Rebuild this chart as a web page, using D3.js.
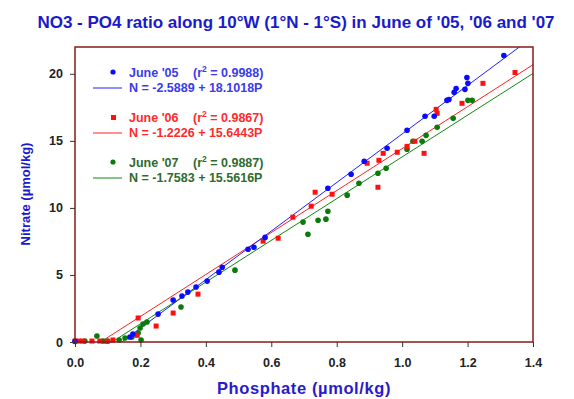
<!DOCTYPE html>
<html>
<head>
<meta charset="utf-8">
<script src="https://cdn.jsdelivr.net/npm/d3@7"></script>
<style>
  body { margin: 0; background: #fff; }
  svg { font-family: "Liberation Sans", Arial, sans-serif; }
</style>
</head>
<body>
<svg id="drawing_region"></svg>
<script>
// phosphate (P) / nitrate (N) pairs
const p05 = [0.0, 0.168, 0.177, 0.254, 0.300, 0.327, 0.345, 0.370, 0.404, 0.440, 0.450, 0.529, 0.547, 0.581, 0.773, 0.844, 0.884, 0.954, 1.015, 1.070, 1.098, 1.137, 1.143, 1.159, 1.165, 1.192, 1.198, 1.201, 1.311];
const n05 = [0.05, 0.37, 0.6, 2.08, 3.13, 3.43, 3.72, 4.10, 4.54, 5.21, 5.58, 6.92, 7.07, 7.8, 11.47, 12.51, 13.48, 14.45, 15.79, 16.83, 16.83, 18.02, 18.09, 18.62, 18.91, 18.84, 19.73, 19.29, 21.37];

const p06 = [0.0, 0.012, 0.024, 0.052, 0.076, 0.098, 0.116, 0.19, 0.193, 0.248, 0.300, 0.376, 0.575, 0.621, 0.666, 0.722, 0.734, 0.786, 0.893, 0.926, 0.929, 0.942, 0.985, 1.015, 1.039, 1.067, 1.104, 1.107, 1.183, 1.247, 1.345];
const n06 = [0.07, 0.07, 0.07, 0.07, 0.07, 0.05, 0.15, 0.5, 1.79, 1.19, 2.16, 3.57, 7.52, 7.74, 9.31, 10.13, 11.17, 11.02, 13.33, 11.54, 13.55, 14.07, 14.15, 14.59, 14.97, 14.07, 17.35, 17.05, 17.8, 19.29, 20.1];

const p07 = [0.03, 0.067, 0.086, 0.1, 0.135, 0.153, 0.174, 0.193, 0.199, 0.202, 0.208, 0.22, 0.324, 0.489, 0.697, 0.712, 0.743, 0.767, 0.773, 0.832, 0.868, 0.926, 0.951, 1.015, 1.033, 1.061, 1.073, 1.107, 1.156, 1.201, 1.214];
const n07 = [0.07, 0.45, 0.07, 0.07, 0.15, 0.3, 0.37, 0.67, 1.04, 0.15, 1.34, 1.49, 2.61, 5.36, 8.94, 8.04, 9.08, 9.16, 9.75, 10.95, 11.84, 12.58, 12.96, 14.37, 14.97, 14.97, 15.41, 16.01, 16.68, 18.02, 18.02];

// legend / regression fits
const years = ["June '05", "June '06", "June '07"];
const r2 = ["0.9988", "0.9867", "0.9887"];
const intercepts = [-2.5889, -1.2226, -1.7583];
const slopes = [18.1018, 15.6443, 15.5616];

const xTicks = [0, 0.2, 0.4, 0.6, 0.8, 1.0, 1.2, 1.4];
const yTicks = [0, 5, 10, 15, 20];

class ScatterChart {

    constructor( config, series ) {
        this.config = config;
        this.series = series;
        this.init();
    }

    init() {
        let self = this;

        self.svg = d3.select( self.config.parent )
            .attr('width', self.config.width)
            .attr('height', self.config.height);

        self.inner_width = self.config.width - self.config.margin.left - self.config.margin.right;
        self.inner_height = self.config.height - self.config.margin.top - self.config.margin.bottom;

        self.chart = self.svg.append('g')
            .attr('transform', `translate(${self.config.margin.left}, ${self.config.margin.top})`);

        self.xscale = d3.scaleLinear()
            .domain([0, 1.4])
            .range([0, self.inner_width]);

        self.yscale = d3.scaleLinear()
            .domain([0, 22])
            .range([self.inner_height, 0]);

        self.xaxis = d3.axisBottom( self.xscale )
            .tickValues(xTicks)
            .tickFormat(d3.format('.1f'))
            .tickSize(5)
            .tickSizeOuter(0)
            .tickPadding(11);

        self.yaxis = d3.axisLeft( self.yscale )
            .tickValues(yTicks)
            .tickSize(5)
            .tickSizeOuter(0)
            .tickPadding(7);
    }

    render() {
        let self = this;
        const frame = '#8b1a1a';

        self.chart.append('clipPath').attr('id', 'clip')
            .append('rect')
            .attr('width', self.inner_width)
            .attr('height', self.inner_height);

        // regression lines from x-intercept to the frame edge
        self.series.forEach( s => {
            const x0 = -s.a / s.b;
            const x1 = Math.min(1.4, (22 - s.a) / s.b);
            self.chart.append('line')
                .attr('clip-path', 'url(#clip)')
                .attr('x1', self.xscale(x0))
                .attr('y1', self.yscale(0))
                .attr('x2', self.xscale(x1))
                .attr('y2', self.yscale(s.a + s.b * x1))
                .attr('stroke', s.line)
                .attr('stroke-width', 1);
        });

        // points
        self.series.forEach( s => {
            const pts = s.p.map( (p, i) => ({p: p, n: s.n[i]}) );
            if (s.shape === 'square') {
                self.chart.append('g').selectAll('rect')
                    .data(pts)
                    .enter()
                    .append('rect')
                    .attr('x', d => self.xscale(d.p) - 2.5)
                    .attr('y', d => self.yscale(d.n) - 2.5)
                    .attr('width', 5)
                    .attr('height', 5)
                    .style('fill', s.color);
            } else {
                self.chart.append('g').selectAll('circle')
                    .data(pts)
                    .enter()
                    .append('circle')
                    .attr('cx', d => self.xscale(d.p))
                    .attr('cy', d => self.yscale(d.n))
                    .attr('r', 2.8)
                    .style('fill', s.color);
            }
        });

        // frame
        self.chart.append('rect')
            .attr('width', self.inner_width)
            .attr('height', self.inner_height)
            .attr('fill', 'none')
            .attr('stroke', frame)
            .attr('stroke-width', 1.5);

        const xg = self.chart.append('g')
            .attr('transform', `translate(0, ${self.inner_height})`)
            .call( self.xaxis );
        const yg = self.chart.append('g')
            .call( self.yaxis );

        [xg, yg].forEach( g => {
            g.select('.domain').remove();
            g.selectAll('line').attr('stroke', '#333');
            g.selectAll('text')
                .attr('fill', '#222')
                .attr('font-size', '12.5px')
                .attr('font-weight', 'bold')
                .attr('font-family', '"Liberation Sans", Arial, sans-serif');
        });

        // legend, in year order
        const lg = self.svg.append('g');
        const byYear = [2, 1, 0].map( k => self.series[k] );
        byYear.forEach( (s, i) => {
            const y0 = 77 + i * 45;
            if (s.shape === 'square') {
                lg.append('rect').attr('x', 111).attr('y', y0 - 7).attr('width', 5).attr('height', 5).attr('fill', s.color);
            } else {
                lg.append('circle').attr('cx', 113).attr('cy', y0 - 5).attr('r', 2.6).attr('fill', s.color);
            }
            lg.append('line')
                .attr('x1', 93).attr('x2', 122)
                .attr('y1', y0 + 11).attr('y2', y0 + 11)
                .attr('stroke', s.line);

            const t = lg.append('text')
                .attr('x', 129).attr('y', y0)
                .attr('fill', s.text)
                .attr('font-size', '12.5px')
                .attr('font-weight', 'bold');
            t.append('tspan').text(years[i]);
            t.append('tspan').attr('x', 193).text('(r');
            t.append('tspan').attr('font-size', '8.5px').attr('dy', -5).text('2');
            t.append('tspan').attr('dy', 5).text(' = ' + r2[i] + ')');

            lg.append('text')
                .attr('x', 129).attr('y', y0 + 15)
                .attr('fill', s.text)
                .attr('font-size', '12.5px')
                .attr('font-weight', 'bold')
                .text(`N = ${s.a.toFixed(4)} + ${s.b.toFixed(4)}P`);
        });

        // title & axis labels
        self.svg.append('text')
            .attr('x', 296).attr('y', 28)
            .attr('text-anchor', 'middle')
            .attr('fill', '#1a1acc')
            .attr('font-size', '17px')
            .attr('font-weight', 'bold')
            .text("NO3 - PO4 ratio along 10\u00B0W (1\u00B0N - 1\u00B0S) in June of '05, '06 and '07");

        self.svg.append('text')
            .attr('x', 304).attr('y', 394)
            .attr('text-anchor', 'middle')
            .attr('fill', '#2a1acc')
            .attr('font-size', '16.5px')
            .attr('font-weight', 'bold')
            .attr('letter-spacing', '0.6px')
            .text('Phosphate (\u00B5mol/kg)');

        self.svg.append('text')
            .attr('transform', 'translate(30, 194) rotate(-90)')
            .attr('text-anchor', 'middle')
            .attr('fill', '#1a1acc')
            .attr('font-size', '13px')
            .attr('font-weight', 'bold')
            .text('Nitrate (\u00B5mol/kg)');
    }
}

const series = [
    {p: p07, n: n07, a: intercepts[2], b: slopes[2], color: '#0a7a0a', line: '#118811', text: '#2e6b2e', shape: 'circle'},
    {p: p06, n: n06, a: intercepts[1], b: slopes[1], color: '#ff1010', line: '#ff2020', text: '#ff2a2a', shape: 'square'},
    {p: p05, n: n05, a: intercepts[0], b: slopes[0], color: '#0a0aff', line: '#2020ff', text: '#3a3aee', shape: 'circle'}
];

const chart = new ScatterChart({
    parent: '#drawing_region',
    width: 574,
    height: 399,
    margin: {top: 47, right: 41, bottom: 57, left: 75}
}, series);
chart.render();
</script>
</body>
</html>
